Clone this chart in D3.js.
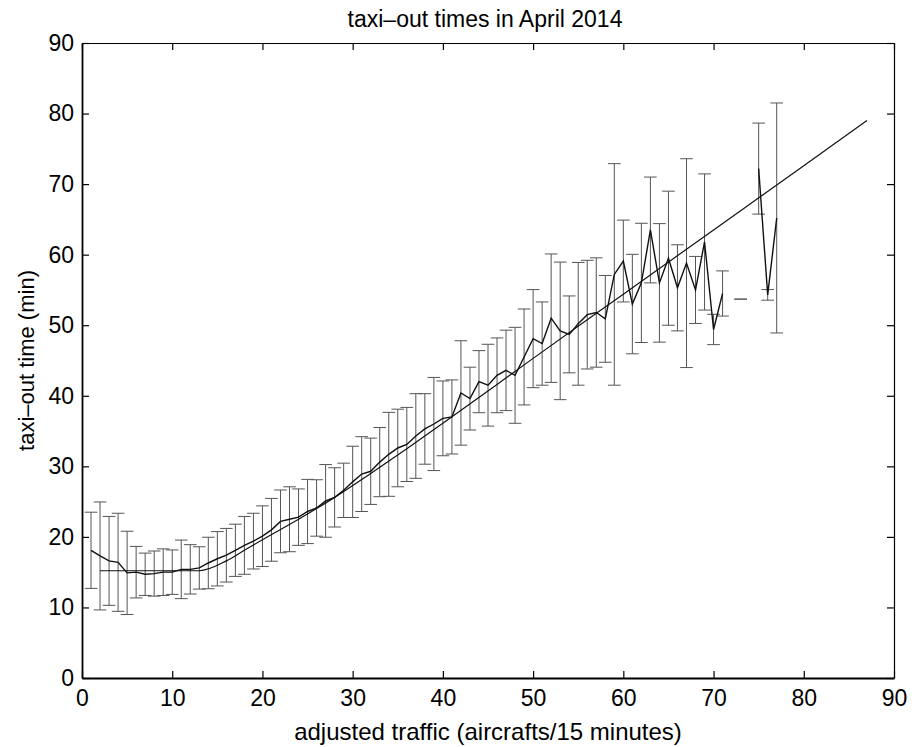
<!DOCTYPE html>
<html>
<head>
  <meta charset="UTF-8">
  <title>taxi-out times in April 2014</title>
  <script src="https://d3js.org/d3.v7.min.js"></script>
  <style>
    body {
      margin: 0;
      background: #fff;
      font-family: "Liberation Sans", Arial, sans-serif;
    }
    .axis path, .axis line {
      stroke: #000;
      stroke-width: 1.2;
    }
    .axis.main path {
      stroke-width: 1.8;
    }
    .axis text {
      font-size: 23px;
      fill: #000;
    }
    .bar {
      stroke: #555;
      stroke-width: 1;
    }
    .mean-line {
      fill: none;
      stroke: #111;
      stroke-width: 1.4;
    }
    .fit-line {
      fill: none;
      stroke: #111;
      stroke-width: 1.2;
    }
    .label {
      font-size: 23px;
      fill: #000;
    }
  </style>
</head>
<body>
  <div id="chart"></div>
  <script>
    // traffic values 1..77, null where no data (72, 74)
    const traffic = [1, 2, 3, 4, 5, 6, 7, 8, 9, 10, 11, 12, 13, 14, 15, 16, 17, 18, 19, 20,
      21, 22, 23, 24, 25, 26, 27, 28, 29, 30, 31, 32, 33, 34, 35, 36, 37, 38, 39, 40,
      41, 42, 43, 44, 45, 46, 47, 48, 49, 50, 51, 52, 53, 54, 55, 56, 57, 58, 59, 60,
      61, 62, 63, 64, 65, 66, 67, 68, 69, 70, 71, 72, 73, 74, 75, 76, 77];
    const meanTime = [18.1, 17.3, 16.6, 16.4, 14.9, 15.0, 14.7, 14.8, 15.0, 15.0,
      15.4, 15.4, 15.6, 16.3, 16.9, 17.4, 18.1, 18.8, 19.4, 20.1,
      21.0, 22.2, 22.5, 22.8, 23.6, 24.1, 25.1, 25.6, 26.6, 27.8,
      28.9, 29.3, 30.6, 31.7, 32.6, 33.1, 34.3, 35.3, 36.0, 36.8,
      37.0, 40.4, 39.6, 42.0, 41.5, 42.9, 43.6, 42.9, 45.5, 48.1,
      47.4, 51.0, 49.2, 48.7, 50.2, 51.5, 51.8, 50.9, 57.2, 59.1,
      53.0, 56.0, 63.5, 56.0, 59.5, 55.3, 58.8, 55.0, 61.8, 49.4,
      54.5, null, 53.7, null, 72.2, 54.3, 65.2];
    const spread = [5.4, 7.65, 6.3, 6.95, 5.9, 3.65, 3.0, 3.2, 3.3, 3.15,
      4.15, 3.5, 3.0, 3.65, 3.85, 3.8, 3.7, 4.1, 3.95, 4.3,
      4.45, 4.45, 4.6, 4.0, 4.55, 4.0, 5.15, 4.2, 3.85, 5.05,
      5.3, 4.7, 4.9, 5.95, 5.5, 5.25, 6.0, 5.0, 6.6, 5.3,
      5.25, 7.4, 4.45, 4.4, 5.8, 5.3, 5.7, 6.8, 6.8, 6.95,
      5.9, 9.1, 9.75, 5.45, 8.7, 7.7, 7.75, 6.15, 15.7, 5.8,
      7.05, 8.45, 7.5, 8.4, 9.5, 6.1, 14.8, 4.75, 9.65, 2.15,
      3.2, null, 0, null, 6.45, 0.75, 16.3];

    // fitted curve, read at a few points
    const fitTraffic = [2, 13, 16, 18, 20, 24, 28, 32, 36, 40, 50, 60, 70, 80, 87];
    const fitTime = [15.2, 15.2, 16.6, 18.1, 19.6, 22.5, 25.6, 29.0, 32.5, 36.1, 45.3, 54.4, 63.5, 72.6, 79.0];

    const ticks = [0, 10, 20, 30, 40, 50, 60, 70, 80, 90];

    const W = 912, H = 747;
    const margin = { top: 43, right: 18, bottom: 69, left: 82 };
    const width = W - margin.left - margin.right;
    const height = H - margin.top - margin.bottom;

    const x = d3.scaleLinear().domain([0, 90]).range([0, width]);
    const y = d3.scaleLinear().domain([0, 90]).range([height, 0]);

    const root = d3.select("#chart").append("svg")
      .attr("width", W)
      .attr("height", H);

    const svg = root.append("g")
      .attr("transform", `translate(${margin.left}, ${margin.top})`);

    const rows = traffic.map((t, i) => ({ t: t, m: meanTime[i], s: spread[i] }));
    const valid = rows.filter(d => d.m !== null);

    // error bars
    const cap = 0.7;
    const bars = svg.append("g");
    bars.selectAll(".stem")
      .data(valid)
      .enter()
      .append("line")
      .attr("class", "bar")
      .attr("x1", d => x(d.t))
      .attr("x2", d => x(d.t))
      .attr("y1", d => y(d.m + d.s))
      .attr("y2", d => y(d.m - d.s));
    bars.selectAll(".top")
      .data(valid)
      .enter()
      .append("line")
      .attr("class", "bar")
      .attr("x1", d => x(d.t - cap))
      .attr("x2", d => x(d.t + cap))
      .attr("y1", d => y(d.m + d.s))
      .attr("y2", d => y(d.m + d.s));
    bars.selectAll(".bottom")
      .data(valid)
      .enter()
      .append("line")
      .attr("class", "bar")
      .attr("x1", d => x(d.t - cap))
      .attr("x2", d => x(d.t + cap))
      .attr("y1", d => y(d.m - d.s))
      .attr("y2", d => y(d.m - d.s));

    // mean line, broken at missing values
    const meanLine = d3.line()
      .defined(d => d.m !== null)
      .x(d => x(d.t))
      .y(d => y(d.m));
    svg.append("path")
      .datum(rows)
      .attr("class", "mean-line")
      .attr("d", meanLine);

    // fitted curve
    const fitLine = d3.line()
      .curve(d3.curveMonotoneX)
      .x((d, i) => x(fitTraffic[i]))
      .y(d => y(d));
    svg.append("path")
      .datum(fitTime)
      .attr("class", "fit-line")
      .attr("d", fitLine);

    // axes with inward ticks on all sides
    svg.append("g")
      .attr("class", "axis main")
      .attr("transform", `translate(0, ${height})`)
      .call(d3.axisBottom(x).tickValues(ticks).tickSizeInner(-7).tickSizeOuter(0).tickPadding(12));
    svg.append("g")
      .attr("class", "axis")
      .call(d3.axisTop(x).tickValues(ticks).tickSizeInner(-7).tickSizeOuter(0).tickFormat(""));
    svg.append("g")
      .attr("class", "axis main")
      .call(d3.axisLeft(y).tickValues(ticks).tickSizeInner(-7).tickSizeOuter(0).tickPadding(8));
    svg.append("g")
      .attr("class", "axis")
      .attr("transform", `translate(${width}, 0)`)
      .call(d3.axisRight(y).tickValues(ticks).tickSizeInner(-7).tickSizeOuter(0).tickFormat(""));

    root.append("text")
      .attr("class", "label")
      .attr("x", 485)
      .attr("y", 27)
      .attr("text-anchor", "middle")
      .text("taxi–out times in April 2014");

    root.append("text")
      .attr("class", "label")
      .attr("x", 488)
      .attr("y", 740)
      .attr("text-anchor", "middle")
      .style("font-size", "24px")
      .text("adjusted traffic (aircrafts/15 minutes)");

    root.append("text")
      .attr("class", "label")
      .attr("transform", `translate(34, ${margin.top + height / 2}) rotate(-90)`)
      .attr("text-anchor", "middle")
      .style("font-size", "22px")
      .text("taxi–out time (min)");
  </script>
</body>
</html>
